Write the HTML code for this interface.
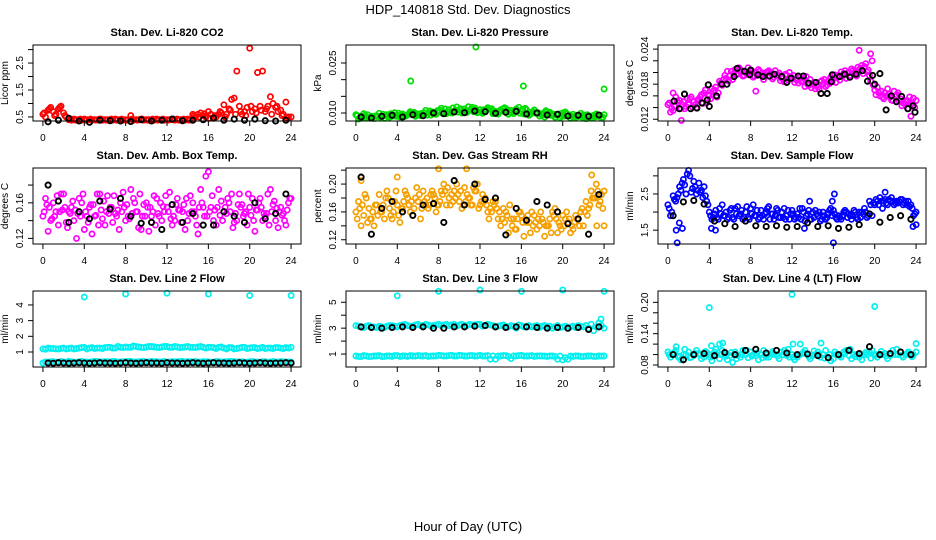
<!DOCTYPE html>
<html><head><meta charset="utf-8"><style>
html,body{margin:0;padding:0;background:#fff;}
svg{display:block;font-family:"Liberation Sans",Arial,sans-serif;}
</style></head><body>
<svg id="chart" width="936" height="540" viewBox="0 0 936 540" xmlns="http://www.w3.org/2000/svg">
<rect width="936" height="540" fill="#fff"/>
<text x="468" y="14" text-anchor="middle" font-size="13">HDP_140818  Std. Dev. Diagnostics</text>
<text x="468" y="531" text-anchor="middle" font-size="13">Hour of Day (UTC)</text>
</svg>
<script>
const xTicks = [0,4,8,12,16,20,24];
const co2RedA = [0.6,0.75,0.7,0.8,0.65,0.4,0.42,0.4,0.42,0.4,0.4,0.42,0.4,0.4,0.42,0.4,0.4,0.55,0.4,0.42,0.4,0.4,0.42,0.4,0.4,0.4,0.42,0.4,0.42,0.6,0.6,0.55,0.7,0.45,0.6,0.95,0.8,1.2,0.9,0.7,3.05,0.8,0.9,0.7,1.25,0.85,0.75,1.05,0.5];
const co2RedB = [0.5,0.85,0.6,0.9,0.5,0.38,0.4,0.38,0.4,0.38,0.4,0.38,0.4,0.38,0.4,0.38,0.4,0.38,0.4,0.38,0.4,0.38,0.4,0.38,0.4,0.38,0.4,0.38,0.4,0.5,0.65,0.5,0.6,0.5,0.65,0.6,1.15,2.2,0.6,0.85,0.7,2.15,2.2,0.9,1.0,0.7,0.6,0.5];
const co2RedC = [0.65,0.8,0.55,0.85,0.55,0.42,0.38,0.42,0.38,0.42,0.38,0.42,0.38,0.42,0.38,0.42,0.38,0.42,0.38,0.42,0.38,0.42,0.38,0.42,0.38,0.42,0.38,0.42,0.38,0.55,0.5,0.62,0.45,0.55,0.7,0.5,0.75,0.6,0.7,0.55,0.9,0.65,0.75,0.8,0.6,0.9,0.55,0.45];
const co2Black = [0.32,0.38,0.45,0.35,0.3,0.38,0.36,0.35,0.33,0.4,0.35,0.38,0.42,0.36,0.38,0.4,0.46,0.38,0.42,0.38,0.42,0.36,0.35,0.38];

const presGreenA = [0.0095,0.009,0.0085,0.009,0.0092,0.0088,0.0095,0.009,0.0093,0.0097,0.0095,0.01,0.0097,0.0095,0.01,0.0098,0.0105,0.0102,0.011,0.0105,0.011,0.0112,0.0108,0.0115,0.011,0.0108,0.0112,0.0105,0.011,0.0103,0.0108,0.0112,0.0105,0.011,0.0102,0.01,0.0098,0.0104,0.0097,0.0095,0.01,0.0092,0.0096,0.009,0.0094,0.0088,0.0093,0.009,0.0095];
const presGreenB = [0.0082,0.0098,0.0085,0.0083,0.0099,0.0084,0.0087,0.0101,0.0088,0.009,0.0104,0.009,0.0092,0.0108,0.0094,0.0096,0.0114,0.0098,0.01,0.0118,0.01,0.0102,0.0117,0.0101,0.0099,0.0116,0.0098,0.0097,0.0113,0.0096,0.0098,0.0117,0.0097,0.0093,0.0109,0.0091,0.0088,0.0102,0.0087,0.0086,0.0103,0.0084,0.0085,0.0099,0.0083,0.0085,0.0097,0.0084];
const presGreenC = [0.0092,0.0087,0.0095,0.0089,0.009,0.0096,0.0091,0.0094,0.0099,0.0093,0.0097,0.0102,0.0096,0.0101,0.0106,0.01,0.0108,0.0112,0.0104,0.0109,0.0113,0.0106,0.0111,0.0108,0.0104,0.0109,0.0113,0.0101,0.0106,0.011,0.0103,0.0107,0.0111,0.0099,0.0104,0.0101,0.0095,0.0099,0.0093,0.0097,0.0091,0.0094,0.0089,0.0092,0.0087,0.0091,0.0088,0.0092];
const presGreenD = [0.0086,0.0093,0.0088,0.0091,0.0086,0.0093,0.0098,0.009,0.0095,0.0092,0.0101,0.0095,0.0099,0.0094,0.0103,0.0107,0.0099,0.0104,0.0115,0.0103,0.0107,0.0119,0.0104,0.0102,0.011,0.0114,0.01,0.0104,0.0116,0.0102,0.0105,0.0099,0.0114,0.0096,0.01,0.0097,0.0107,0.0093,0.0096,0.0091,0.0098,0.009,0.0093,0.0087,0.0095,0.0086,0.0091,0.0087];
const presOutHours = [5.3,11.6,16.2,24];
const presOutVals = [0.0196,0.0298,0.0181,0.0172];
const presBlack = [0.0088,0.0085,0.009,0.0093,0.0088,0.0095,0.0092,0.01,0.0098,0.0103,0.0101,0.0106,0.0104,0.0099,0.0102,0.0105,0.0097,0.01,0.0094,0.0096,0.0091,0.0093,0.009,0.0094];

const tempMagA = [0.0145,0.0135,0.0148,0.015,0.0145,0.015,0.0155,0.0165,0.016,0.017,0.0185,0.0195,0.0195,0.0205,0.0205,0.02,0.0198,0.02,0.0195,0.02,0.0198,0.0195,0.019,0.0195,0.019,0.0188,0.0185,0.018,0.018,0.0175,0.018,0.0185,0.019,0.0195,0.0198,0.02,0.02,0.0205,0.021,0.0195,0.017,0.016,0.0165,0.0158,0.016,0.0155,0.015,0.0145,0.0152];
const tempMagB = [0.0132,0.0158,0.0138,0.0142,0.0158,0.014,0.0162,0.0148,0.0172,0.0158,0.0178,0.0202,0.0188,0.0198,0.0194,0.0208,0.0192,0.0205,0.0188,0.0203,0.0192,0.0199,0.0184,0.02,0.0183,0.0192,0.0176,0.0188,0.0172,0.0184,0.0176,0.0192,0.0183,0.0201,0.019,0.0206,0.0194,0.0212,0.0201,0.022,0.0175,0.0158,0.0172,0.0152,0.0165,0.0148,0.0138,0.0156];
const tempMagC = [0.0148,0.0142,0.0152,0.0138,0.0155,0.0145,0.0158,0.017,0.0155,0.0175,0.0182,0.019,0.0202,0.0196,0.0202,0.0197,0.0203,0.0195,0.0199,0.0201,0.0189,0.0196,0.0191,0.0187,0.0195,0.0182,0.019,0.0178,0.0183,0.0171,0.0188,0.0181,0.0196,0.0187,0.0203,0.0195,0.0198,0.0207,0.0215,0.0185,0.0162,0.0168,0.016,0.0153,0.0162,0.0143,0.0152,0.0148];
const tempMagD = [0.0139,0.0151,0.0145,0.0156,0.0141,0.0153,0.0147,0.0162,0.0168,0.0165,0.0188,0.0185,0.0198,0.0208,0.0195,0.0201,0.0194,0.0202,0.0197,0.0193,0.0203,0.0186,0.0197,0.0193,0.0188,0.0185,0.0193,0.0174,0.0178,0.0186,0.0179,0.0184,0.0191,0.0194,0.0199,0.0203,0.0209,0.0198,0.0204,0.0178,0.0166,0.0155,0.0163,0.0168,0.0151,0.0147,0.0158,0.014];
const tempOutHours = [1.3,18.5,19.6,0.5,8.5,23.5];
const tempOutVals = [0.0118,0.0238,0.0232,0.0165,0.0168,0.0125];
const tempBlkHours = [0.6,1.1,1.6,2.2,2.8,3.3,3.8,3.9,4,4.7,5.2,5.7,6.4,6.7,7.4,7.9,8,8.7,9.2,9.8,10.3,11,11.5,11.9,12.6,13.1,13.6,14.3,14.8,15.4,15.8,15.9,16.6,17.1,17.6,18.2,18.8,19.3,19.8,20,20.5,21.1,21.6,22.1,22.6,23.2,23.7,23.9];
const tempBlkVals = [0.0151,0.0138,0.0163,0.0138,0.0139,0.0148,0.0153,0.0179,0.0142,0.016,0.018,0.018,0.0193,0.0207,0.0202,0.0196,0.0204,0.0196,0.0193,0.0194,0.0197,0.0193,0.0183,0.019,0.0194,0.0194,0.0182,0.0183,0.0164,0.0164,0.0184,0.0196,0.0193,0.0197,0.0192,0.0197,0.0203,0.0185,0.0195,0.018,0.0198,0.0136,0.016,0.015,0.0159,0.0138,0.0143,0.0132];

const ambMagA = [0.145,0.128,0.16,0.135,0.17,0.15,0.14,0.165,0.13,0.155,0.145,0.17,0.135,0.155,0.148,0.16,0.14,0.175,0.15,0.13,0.16,0.145,0.165,0.14,0.155,0.135,0.165,0.15,0.14,0.16,0.125,0.155,0.195,0.14,0.175,0.15,0.16,0.138,0.17,0.148,0.155,0.128,0.165,0.145,0.175,0.14,0.155,0.135,0.165];
const ambMagB = [0.165,0.14,0.15,0.17,0.138,0.155,0.12,0.16,0.145,0.125,0.17,0.142,0.168,0.138,0.152,0.172,0.145,0.165,0.132,0.158,0.128,0.168,0.145,0.15,0.172,0.14,0.152,0.13,0.168,0.145,0.175,0.19,0.155,0.135,0.162,0.148,0.17,0.14,0.158,0.135,0.165,0.152,0.14,0.17,0.158,0.132,0.148,0.16];
const ambMagC = [0.15,0.155,0.145,0.15,0.155,0.148,0.152,0.145,0.15,0.158,0.146,0.152,0.15,0.155,0.145,0.15,0.158,0.148,0.15,0.145,0.155,0.15,0.148,0.156,0.15,0.145,0.152,0.158,0.148,0.15,0.155,0.145,0.15,0.152,0.146,0.155,0.15,0.148,0.155,0.15,0.146,0.152,0.155,0.148,0.15,0.154,0.146,0.152];
const ambMagD = [0.158,0.142,0.168,0.152,0.132,0.162,0.148,0.17,0.138,0.158,0.135,0.162,0.148,0.168,0.13,0.155,0.142,0.16,0.17,0.145,0.155,0.135,0.16,0.168,0.142,0.158,0.138,0.165,0.15,0.135,0.16,0.145,0.168,0.155,0.14,0.165,0.132,0.158,0.145,0.17,0.14,0.16,0.148,0.135,0.162,0.15,0.14,0.165];
const ambBlack = [0.18,0.162,0.138,0.15,0.142,0.162,0.153,0.165,0.145,0.137,0.138,0.13,0.158,0.138,0.148,0.135,0.135,0.15,0.145,0.138,0.16,0.142,0.148,0.17];

const rhOrgA = [0.16,0.14,0.18,0.15,0.17,0.16,0.19,0.15,0.17,0.165,0.18,0.155,0.175,0.19,0.165,0.185,0.17,0.2,0.18,0.19,0.175,0.195,0.18,0.19,0.17,0.18,0.165,0.175,0.14,0.16,0.15,0.135,0.155,0.145,0.16,0.135,0.15,0.14,0.16,0.13,0.155,0.145,0.135,0.15,0.14,0.165,0.18,0.17,0.19];
const rhOrgB = [0.175,0.155,0.165,0.14,0.185,0.15,0.165,0.175,0.145,0.19,0.16,0.18,0.15,0.17,0.185,0.16,0.19,0.17,0.185,0.2,0.165,0.185,0.17,0.2,0.185,0.16,0.175,0.15,0.165,0.13,0.15,0.16,0.125,0.145,0.155,0.14,0.125,0.15,0.165,0.14,0.15,0.13,0.155,0.16,0.175,0.19,0.2,0.185];
const rhOrgC = [0.15,0.17,0.145,0.16,0.155,0.17,0.18,0.16,0.155,0.175,0.17,0.165,0.185,0.175,0.17,0.18,0.175,0.19,0.17,0.18,0.19,0.175,0.17,0.19,0.175,0.17,0.16,0.165,0.15,0.155,0.14,0.15,0.145,0.155,0.14,0.15,0.145,0.14,0.155,0.145,0.14,0.15,0.145,0.14,0.16,0.17,0.18,0.175];
const rhOrgD = [0.165,0.185,0.15,0.17,0.16,0.18,0.155,0.19,0.165,0.185,0.175,0.195,0.165,0.18,0.19,0.17,0.185,0.195,0.175,0.185,0.17,0.18,0.195,0.165,0.175,0.15,0.17,0.16,0.145,0.17,0.135,0.16,0.15,0.13,0.145,0.16,0.14,0.13,0.15,0.135,0.16,0.14,0.15,0.165,0.155,0.18,0.19,0.165];
const rhOutHours = [8,10.7,0.5,4,24,23.3,22.8];
const rhOutVals = [0.222,0.222,0.205,0.21,0.14,0.14,0.213];
const rhBlack = [0.21,0.128,0.165,0.175,0.16,0.155,0.17,0.172,0.145,0.205,0.17,0.2,0.178,0.18,0.127,0.165,0.148,0.175,0.17,0.16,0.143,0.15,0.128,0.185];

const flowBlueA = [2.2,2.45,2.5,2.9,3.15,2.85,2.8,2.7,2.0,1.95,2.1,1.9,2.05,2.1,1.95,2.0,2.1,1.9,2.05,2.0,1.95,2.1,2.0,1.9,2.05,1.95,2.1,1.95,2.0,1.9,2.0,1.95,2.05,1.9,2.0,1.95,2.05,2.0,2.1,2.3,2.2,2.4,2.35,2.3,2.25,2.35,2.3,2.2,2.0];
const flowBlueB = [1.9,2.3,2.6,2.5,2.55,2.5,2.6,2.3,1.8,1.85,2.2,1.8,1.85,2.15,1.8,1.85,2.2,1.8,1.8,2.15,1.8,1.85,2.1,1.8,1.8,2.1,1.75,1.8,2.05,1.75,1.8,2.1,1.85,1.8,2.0,1.8,1.85,2.0,1.85,1.9,2.3,2.1,2.2,2.3,2.25,2.2,2.3,1.9];
const flowBlueC = [2.1,2.35,2.7,2.75,3.0,2.7,2.55,2.45,1.9,2.05,1.95,2.0,2.1,1.95,2.05,2.15,1.95,2.05,1.9,2.1,1.95,2.05,1.85,2.05,1.95,1.85,2.0,2.05,1.85,2.0,1.9,2.05,1.95,1.85,2.05,1.9,2.0,1.85,2.0,2.2,2.35,2.3,2.25,2.4,2.3,2.35,2.2,2.1];
const flowBlueD = [2.0,2.4,2.8,3.05,2.65,2.6,2.4,2.2,1.85,1.8,1.9,1.85,1.8,1.9,1.85,1.8,1.9,1.85,1.95,1.8,1.9,1.85,1.8,1.95,1.85,1.8,1.9,1.8,1.95,1.8,1.85,1.9,1.8,1.9,1.85,1.9,1.8,1.95,1.9,2.25,2.2,2.3,2.35,2.2,2.3,2.25,2.15,1.95];
const flowOutHours = [0.8,0.9,1.1,1.4,4.2,13.2,16,16.1,13.7,23.7,24,21,15.9,4.6];
const flowOutVals = [1.5,1.15,1.7,1.55,1.55,1.55,1.15,2.5,2.3,1.6,1.65,2.55,2.3,1.5];
const flowBlack = [1.9,2.28,2.32,2.22,1.75,1.68,1.6,1.75,1.62,1.6,1.62,1.58,1.6,1.7,1.6,1.62,1.55,1.58,1.65,1.95,1.72,1.85,1.9,1.8];

const l2CyanA = [1.2,1.25,1.22,1.2,1.25,1.22,1.2,1.25,1.3,1.25,1.22,1.25,1.28,1.3,1.25,1.3,1.32,1.3,1.35,1.3,1.32,1.35,1.3,1.32,1.35,1.3,1.32,1.3,1.35,1.3,1.32,1.3,1.3,1.28,1.3,1.25,1.28,1.2,1.25,1.3,1.25,1.28,1.25,1.22,1.25,1.28,1.25,1.28,1.3];
const l2CyanB = [1.18,1.22,1.2,1.22,1.2,1.25,1.22,1.28,1.2,1.28,1.25,1.22,1.3,1.25,1.35,1.28,1.3,1.38,1.32,1.28,1.35,1.32,1.28,1.35,1.3,1.35,1.28,1.32,1.3,1.28,1.35,1.25,1.3,1.22,1.32,1.2,1.28,1.22,1.3,1.22,1.28,1.22,1.3,1.25,1.22,1.28,1.22,1.25];
const l2CyanLow = [0.3,0.35,0.38,0.35,0.36,0.4,0.35,0.38,0.36,0.35,0.4,0.36,0.38,0.35,0.4,0.36,0.38,0.4,0.36,0.38,0.35,0.4,0.38,0.36,0.35,0.38,0.36,0.4,0.38,0.36,0.35,0.38,0.36,0.35,0.38,0.36,0.4,0.38,0.36,0.35,0.38,0.36,0.35,0.38,0.36,0.35,0.38,0.36,0.35];
const l2CyanLowB = [0.36,0.38,0.35,0.4,0.36,0.38,0.35,0.4,0.36,0.38,0.4,0.36,0.38,0.4,0.35,0.38,0.4,0.36,0.38,0.4,0.36,0.38,0.35,0.4,0.36,0.38,0.4,0.36,0.38,0.4,0.36,0.38,0.35,0.4,0.36,0.38,0.4,0.36,0.38,0.35,0.4,0.36,0.38,0.35,0.4,0.36,0.38,0.36];
const l2OutHours = [4,8,12,16,20,24];
const l2OutVals = [4.5,4.7,4.75,4.7,4.6,4.6];
const l2Black = [0.3,0.28,0.32,0.3,0.28,0.3,0.32,0.3,0.28,0.3,0.32,0.3,0.3,0.28,0.3,0.32,0.3,0.28,0.3,0.32,0.3,0.3,0.28,0.32,0.3,0.3,0.28,0.3,0.32,0.3,0.28,0.3,0.32,0.3,0.3,0.28,0.3,0.32,0.3,0.28,0.3,0.32,0.3,0.28,0.3,0.3,0.32,0.3];

const l3CyanA = [3.2,3.1,3.15,3.1,3.05,3.1,3.15,3.2,3.1,3.25,3.2,3.15,3.3,3.2,3.25,3.2,3.3,3.25,3.2,3.3,3.25,3.2,3.3,3.25,3.3,3.2,3.25,3.1,3.2,3.15,3.2,3.0,3.2,3.15,3.1,3.2,3.15,3.1,3.0,3.2,3.1,3.0,3.15,3.2,3.1,3.0,2.8,3.4,3.0];
const l3CyanB = [3.15,3.05,3.2,3.1,3.15,3.05,3.2,3.15,3.2,3.3,3.15,3.25,3.2,3.3,3.15,3.25,3.2,3.3,3.25,3.15,3.3,3.2,3.25,3.3,3.15,3.3,3.2,3.15,3.25,3.1,3.15,3.25,3.1,3.2,3.15,3.05,3.2,3.15,3.1,3.05,3.15,3.1,3.05,3.15,3.2,3.3,3.1,3.2];
const l3CyanLow = [0.85,0.8,0.85,0.82,0.85,0.8,0.85,0.82,0.88,0.85,0.82,0.85,0.88,0.85,0.82,0.85,0.9,0.85,0.88,0.85,0.9,0.85,0.88,0.85,0.9,0.85,0.6,0.6,0.85,0.88,0.65,0.85,0.9,0.85,0.88,0.85,0.85,0.82,0.85,0.6,0.55,0.6,0.82,0.85,0.8,0.85,0.82,0.85,0.85];
const l3CyanLowB = [0.82,0.88,0.8,0.85,0.88,0.82,0.85,0.88,0.82,0.86,0.88,0.84,0.86,0.88,0.84,0.86,0.88,0.86,0.9,0.86,0.88,0.84,0.88,0.86,0.84,0.88,0.86,0.84,0.88,0.82,0.86,0.88,0.84,0.86,0.82,0.86,0.84,0.86,0.82,0.84,0.72,0.84,0.86,0.82,0.84,0.86,0.82,0.84];
const l3OutHours = [4,8,12,16,20,24,23.7];
const l3OutVals = [5.5,5.85,5.95,5.85,5.95,5.85,3.7];
const l3Black = [3.1,3.05,3.0,3.05,3.1,3.05,3.1,3.0,3.0,3.1,3.1,3.15,3.2,3.1,3.05,3.1,3.1,3.05,3.0,3.05,3.0,3.05,2.9,3.1];

const l4CyanA = [0.105,0.1,0.095,0.1,0.105,0.098,0.102,0.095,0.1,0.105,0.092,0.1,0.098,0.105,0.095,0.1,0.105,0.098,0.1,0.095,0.102,0.1,0.105,0.098,0.1,0.095,0.102,0.1,0.098,0.105,0.1,0.095,0.092,0.1,0.105,0.098,0.1,0.095,0.1,0.105,0.098,0.1,0.102,0.098,0.1,0.105,0.1,0.098,0.105];
const l4CyanB = [0.095,0.108,0.09,0.1,0.095,0.108,0.092,0.104,0.088,0.1,0.108,0.09,0.085,0.098,0.108,0.094,0.1,0.09,0.108,0.095,0.1,0.092,0.108,0.095,0.09,0.1,0.108,0.092,0.1,0.095,0.108,0.088,0.1,0.095,0.108,0.092,0.1,0.09,0.1,0.108,0.095,0.1,0.092,0.108,0.1,0.095,0.105,0.1];
const l4CyanC = [0.1,0.103,0.097,0.11,0.094,0.102,0.099,0.106,0.095,0.11,0.1,0.097,0.104,0.092,0.1,0.108,0.097,0.103,0.094,0.1,0.106,0.097,0.1,0.11,0.095,0.1,0.104,0.096,0.107,0.1,0.093,0.1,0.105,0.098,0.102,0.11,0.096,0.1,0.104,0.093,0.1,0.106,0.097,0.101,0.11,0.098,0.102,0.096];
const l4OutHours = [4,12,20,4.2,5,5.3,0.8,12.1,12.8,14.8,24];
const l4OutVals = [0.19,0.215,0.192,0.117,0.12,0.122,0.115,0.12,0.12,0.122,0.121];
const l4Black = [0.1,0.09,0.1,0.102,0.098,0.104,0.1,0.108,0.11,0.103,0.108,0.103,0.1,0.101,0.098,0.094,0.1,0.108,0.102,0.115,0.1,0.102,0.105,0.1];

const CYAN='#00f0f0', RED='#ff0000', GRN='#00dd00', MAG='#ff00ff', ORG='#f5a000', BLU='#0000ff', BLK='#000000';
function reg(vals,start,step,color){return {vals,start,step,color};}
function pts(hours,vals,color){return {hours,vals,color};}

const panels = [
 {name:'co2',title:'Stan. Dev. Li-820 CO2',ylab:'Licor ppm',c:0,r:0,ymin:0.35,ymax:3.17,ticks:[0.5,1,1.5,2,2.5,3],labels:['0.5','','1.5','','2.5',''],
  series:[reg(co2RedA,0,0.5,RED),reg(co2RedB,0.25,0.5,RED),reg(co2RedC,0.125,0.5,RED),reg(co2Black,0.5,1,BLK)]},
 {name:'pressure',title:'Stan. Dev. Li-820 Pressure',ylab:'kPa',c:1,r:0,ymin:0.0076,ymax:0.0304,ticks:[0.010,0.015,0.020,0.025],labels:['0.010','','','0.025'],
  series:[reg(presGreenA,0,0.5,GRN),reg(presGreenB,0.25,0.5,GRN),reg(presGreenC,0.125,0.5,GRN),reg(presGreenD,0.375,0.5,GRN),pts(presOutHours,presOutVals,GRN),reg(presBlack,0.5,1,BLK)]},
 {name:'temp',title:'Stan. Dev. Li-820 Temp.',ylab:'degrees C',c:2,r:0,ymin:0.0117,ymax:0.0247,ticks:[0.012,0.014,0.016,0.018,0.020,0.022,0.024],labels:['0.012','','','0.018','','','0.024'],
  series:[reg(tempMagA,0,0.5,MAG),reg(tempMagB,0.25,0.5,MAG),reg(tempMagC,0.125,0.5,MAG),reg(tempMagD,0.375,0.5,MAG),pts(tempOutHours,tempOutVals,MAG),pts(tempBlkHours,tempBlkVals,BLK)]},
 {name:'amb-box-temp',title:'Stan. Dev. Amb. Box Temp.',ylab:'degrees C',c:0,r:1,ymin:0.1137,ymax:0.1992,ticks:[0.12,0.14,0.16,0.18],labels:['0.12','','0.16',''],
  series:[reg(ambMagA,0,0.5,MAG),reg(ambMagB,0.25,0.5,MAG),reg(ambMagC,0.125,0.5,MAG),reg(ambMagD,0.375,0.5,MAG),reg(ambBlack,0.5,1,BLK)]},
 {name:'gas-rh',title:'Stan. Dev. Gas Stream RH',ylab:'percent',c:1,r:1,ymin:0.1139,ymax:0.2231,ticks:[0.12,0.14,0.16,0.18,0.20,0.22],labels:['0.12','','0.16','','0.20',''],
  series:[reg(rhOrgA,0,0.5,ORG),reg(rhOrgB,0.25,0.5,ORG),reg(rhOrgC,0.125,0.5,ORG),reg(rhOrgD,0.375,0.5,ORG),pts(rhOutHours,rhOutVals,ORG),reg(rhBlack,0.5,1,BLK)]},
 {name:'sample-flow',title:'Stan. Dev. Sample Flow',ylab:'ml/min',c:2,r:1,ymin:1.118,ymax:3.217,ticks:[1.5,2,2.5,3],labels:['1.5','','2.5',''],
  series:[reg(flowBlueA,0,0.5,BLU),reg(flowBlueB,0.25,0.5,BLU),reg(flowBlueC,0.125,0.5,BLU),reg(flowBlueD,0.375,0.5,BLU),pts(flowOutHours,flowOutVals,BLU),reg(flowBlack,0.5,1,BLK)]},
 {name:'line2-flow',title:'Stan. Dev. Line 2 Flow',ylab:'ml/min',c:0,r:2,ymin:0.043,ymax:4.89,ticks:[1,2,3,4],labels:['1','2','3','4'],
  series:[reg(l2CyanA,0,0.5,CYAN),reg(l2CyanB,0.25,0.5,CYAN),reg(l2CyanLow,0,0.5,CYAN),reg(l2CyanLowB,0.25,0.5,CYAN),pts(l2OutHours,l2OutVals,CYAN),reg(l2Black,0.5,0.5,BLK)]},
 {name:'line3-flow',title:'Stan. Dev. Line 3 Flow',ylab:'ml/min',c:1,r:2,ymin:0.0,ymax:5.87,ticks:[1,2,3,4,5],labels:['1','','3','','5'],
  series:[reg(l3CyanA,0,0.5,CYAN),reg(l3CyanB,0.25,0.5,CYAN),reg(l3CyanLow,0,0.5,CYAN),reg(l3CyanLowB,0.25,0.5,CYAN),pts(l3OutHours,l3OutVals,CYAN),reg(l3Black,0.5,1,BLK)]},
 {name:'line4-flow',title:'Stan. Dev. Line 4 (LT) Flow',ylab:'ml/min',c:2,r:2,ymin:0.0762,ymax:0.2217,ticks:[0.08,0.10,0.12,0.14,0.16,0.18,0.20],labels:['0.08','','','0.14','','','0.20'],
  series:[reg(l4CyanA,0,0.5,CYAN),reg(l4CyanB,0.25,0.5,CYAN),reg(l4CyanC,0.125,0.5,CYAN),pts(l4OutHours,l4OutVals,CYAN),reg(l4Black,0.5,1,BLK)]}
];

const NS='http://www.w3.org/2000/svg';
const svg=document.getElementById('chart');
const colLeft=[33,346,658], rowTop=[45,168,291], W=268, H=76;
const XMIN=-0.96, XMAX=24.96;
function mk(tag,attrs,parent){const e=document.createElementNS(NS,tag);for(const k in attrs)e.setAttribute(k,attrs[k]);parent.appendChild(e);return e;}

panels.forEach(p=>{
  const L=colLeft[p.c], T=rowTop[p.r];
  const xs=h=>L+(h-XMIN)/(XMAX-XMIN)*W;
  const ys=v=>T+H-(v-p.ymin)/(p.ymax-p.ymin)*H;
  const g=mk('g',{},svg);
  
  
  const t=mk('text',{x:L+W/2,y:T-9,'text-anchor':'middle','font-size':'11','font-weight':'bold'},g);
  t.textContent=p.title;
  
  
  const mg=mk('g',{fill:'none'},g);
  
  
  p.series.forEach(s=>{
    const n=s.vals.length;
    for(let i=0;i<n;i++){
      const h=s.hours?s.hours[i]:s.start+i*s.step;
      const v=s.vals[i];
      const c=mk('circle',{cx:xs(h).toFixed(1),cy:ys(v).toFixed(1),r:2.6,stroke:s.color,'stroke-width':s.color===BLK?1.9:1.7},mg);
      
      
    }
  });
  const b=mk('rect',{x:L,y:T,width:W,height:H,fill:'none',stroke:'#000','stroke-width':1},g);
  
  
  const xa=mk('g',{},g);
  
  
  mk('line',{x1:xs(xTicks[0]),x2:xs(xTicks[xTicks.length-1]),y1:T+H,y2:T+H,stroke:'#000'},xa);
  xTicks.forEach(tv=>{
    mk('line',{x1:xs(tv),x2:xs(tv),y1:T+H,y2:T+H+5,stroke:'#000'},xa);
    const tl=mk('text',{x:xs(tv),y:T+H+20,'text-anchor':'middle','font-size':'10'},xa);
    tl.textContent=String(tv);
  });
  const ya=mk('g',{},g);
  
  
  mk('line',{x1:L,x2:L,y1:ys(p.ticks[0]),y2:ys(p.ticks[p.ticks.length-1]),stroke:'#000'},ya);
  p.ticks.forEach((tv,i)=>{
    mk('line',{x1:L-5,x2:L,y1:ys(tv),y2:ys(tv),stroke:'#000'},ya);
    if(p.labels[i]){
      const yy=ys(tv);
      const tl=mk('text',{x:L-10,y:yy,'text-anchor':'middle','font-size':'10',transform:`rotate(-90 ${L-10} ${yy})`},ya);
      tl.textContent=p.labels[i];
    }
  });
  const yl=mk('text',{x:L-25,y:T+H/2,'text-anchor':'middle','font-size':'10',transform:`rotate(-90 ${L-25} ${T+H/2})`},g);
  yl.textContent=p.ylab;
  
  
});
</script>
</body></html>
